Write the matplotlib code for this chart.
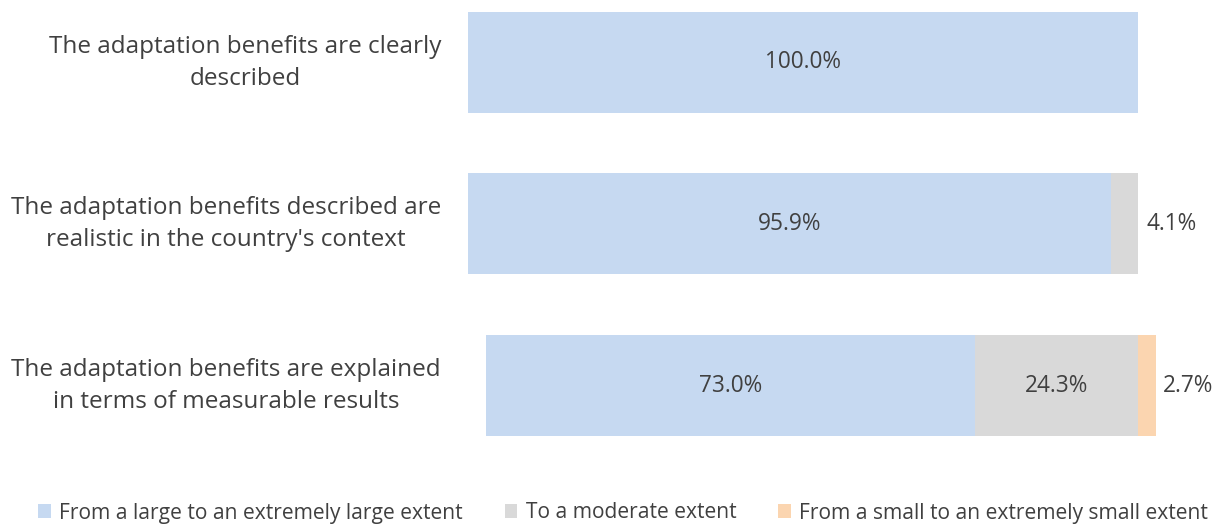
import matplotlib.pyplot as plt
from matplotlib.patches import Patch

plt.rcParams['font.family'] = ['Open Sans', 'DejaVu Sans']

statements = [
    "The adaptation benefits are clearly\ndescribed",
    "The adaptation benefits described are\nrealistic in the country's context",
    "The adaptation benefits are explained\nin terms of measurable results",
]
series = [
    "From a large to an extremely large extent",
    "To a moderate extent",
    "From a small to an extremely small extent",
]
large = [100.0, 95.9, 73.0]
moderate = [0.0, 4.1, 24.3]
small = [0.0, 0.0, 2.7]

colors = ["#C6D9F1", "#D9D9D9", "#FBD5B0"]
txt = "#404040"
W, H = 1226, 525

fig = plt.figure(figsize=(W / 100, H / 100), dpi=100)

# one axes per row (pixel boxes: left, bottom)
rows = [(468, 412), (468, 251), (486, 89)]

for i, (lx, by) in enumerate(rows):
    ax = fig.add_axes([lx / W, by / H, 670 / W, 101 / H])
    vals = [large[i], moderate[i], small[i]]
    left = 0
    for v, c in zip(vals, colors):
        if v > 0:
            ax.barh(0, v, left=left, height=1, color=c)
            if v >= 10:
                ax.text(left + v / 2, 0, f"{v:.1f}%", ha='center', va='center',
                        fontsize=16.3, color=txt)
            else:
                ax.annotate(f"{v:.1f}%", (100, 0), xytext=(5 if i == 2 else 6, 0),
                            textcoords='offset points', ha='left', va='center',
                            fontsize=16.3, color=txt)
        left += v
    ax.set_xlim(0, 100)
    ax.set_ylim(-0.5, 0.5)
    ax.axis('off')
    fig.text(441 / W, (by + 50) / H, statements[i], ha='right', va='center',
             multialignment='center', fontsize=17.5, color=txt, linespacing=1.42)

handles = [Patch(facecolor=c, edgecolor='none') for c in colors]
fig.legend(handles, series, loc='center', bbox_to_anchor=(623 / W, 12 / H), ncol=3,
           frameon=False, fontsize=15.1, labelcolor=txt, handlelength=0.6,
           handleheight=0.6, handletextpad=0.4, columnspacing=2.0)

fig.savefig("out.png", dpi=100)
